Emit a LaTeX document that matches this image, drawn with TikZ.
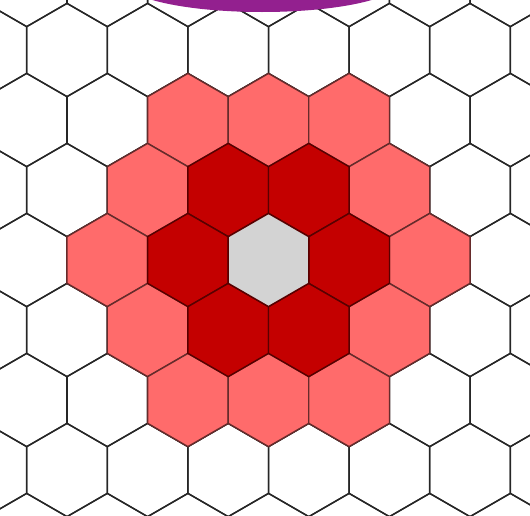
\documentclass[tikz,border=0pt]{standalone}
\usepackage{tikz}
\usetikzlibrary{shapes.geometric}
\definecolor{CellGray}{HTML}{D3D3D3}
\definecolor{RingDark}{HTML}{C40000}
\definecolor{RingLight}{HTML}{FF6B6B}
\definecolor{CapPurple}{HTML}{93208F}

\begin{document}
\begin{tikzpicture}[
    x=0.02cm, y=-0.02cm,
    hexcell/.style={
      regular polygon,
      regular polygon sides=6,
      regular polygon rotate=30,
      minimum size=1.864cm,
      inner sep=0pt,
      outer sep=0pt,
      draw=black!85,
      line width=0.8pt
    },
    darkcell/.style={hexcell, fill=RingDark, draw=RingDark!45!black},
    lightcell/.style={hexcell, fill=RingLight, draw=RingLight!40!black}
  ]
  \clip (0,0) rectangle (530,515);
  \fill[white] (0,0) rectangle (530,515);

  % the plain grid
  \foreach \k in {-4,...,4}
    \foreach \m in {-4,...,4} {
      \pgfmathsetmacro\cx{268.5+80.6*\m+40.3*mod(abs(\k),2)}
      \pgfmathsetmacro\cy{260+70*\k}
      \node[hexcell] (cell-\k-\m) at (\cx,\cy) {};
    }

  % second ring
  \foreach \k/\m in {-2/-1,-2/0,-2/1,-1/-2,-1/1,0/-2,0/2,1/-2,1/1,2/-1,2/0,2/1}
    \node[lightcell] (light-\k-\m) at (cell-\k-\m) {};

  % first ring
  \foreach \k/\m in {-1/-1,-1/0,0/-1,0/1,1/-1,1/0}
    \node[darkcell] (dark-\k-\m) at (cell-\k-\m) {};

  \node[hexcell, fill=CellGray, draw=RingDark!45!black] (centre) at (cell-0-0) {};

  \node[ellipse, fill=CapPurple, inner sep=0pt, minimum width=5.48cm, minimum height=1.2cm] (cap) at (262,-18) {};
\end{tikzpicture}
\end{document}
